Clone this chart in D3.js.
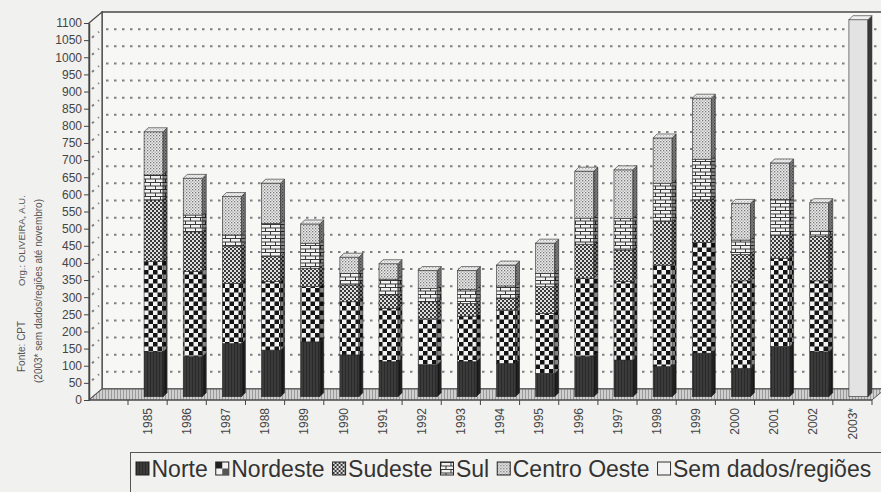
<!DOCTYPE html>
<html><head><meta charset="utf-8">
<script src="https://cdn.jsdelivr.net/npm/d3@7"></script>
<style>
body{margin:0;background:#f1f1f0;}
svg{display:block;font-family:"Liberation Sans",Arial,sans-serif;}
</style>
</head><body>
<script>
// ---------- DATA ----------
const years = ["1985","1986","1987","1988","1989","1990","1991","1992","1993","1994","1995","1996","1997","1998","1999","2000","2001","2002","2003*"];
const norte       = [131,117,155,136,160,122,102, 93,102, 97, 68,117,107, 88,127, 83,146,131,0];
const nordeste    = [263,248,176,200,161,155,156,134,133,156,175,229,229,296,323,255,258,207,0];
const sudeste     = [180,116,107, 73, 54, 49, 39, 50, 37, 34, 78, 99, 92,127,124, 77, 66,129,0];
const sul         = [ 73, 49, 34, 97, 73, 34, 46, 39, 41, 36, 39, 76, 92,112,119, 42,106, 16,0];
const centroOeste = [126,107,112,117, 56, 47, 45, 52, 55, 61, 88,137,142,132,178,107,106, 83,0];
const semDados    = [  0,  0,  0,  0,  0,  0,  0,  0,  0,  0,  0,  0,  0,  0,  0,  0,  0,  0,1100];
const yTickValues = [0,50,100,150,200,250,300,350,400,450,500,550,600,650,700,750,800,850,900,950,1000,1050,1100];
const seriesKeys  = ["norte","nordeste","sudeste","sul","centroOeste","semDados"];
const seriesNames = ["Norte","Nordeste","Sudeste","Sul","Centro Oeste","Sem dados/regiões"];
const noteLine1a = "Fonte: CPT";
const noteLine1b = "Org.: OLIVEIRA, A.U.";
const noteLine2  = "(2003* sem dados/regiões até novembro)";

const rows = years.map((y,i)=>({year:y, norte:norte[i], nordeste:nordeste[i], sudeste:sudeste[i], sul:sul[i], centroOeste:centroOeste[i], semDados:semDados[i]}));

// ---------- LAYOUT ----------
const W=881, H=492;
const axisX=89, wallDX=13, wallDY=11;
const yFront = d3.scaleLinear().domain([0,1100]).range([400,23]);
const yBack  = d3.scaleLinear().domain([0,1100]).range([400-wallDY,23-wallDY]);
const yBar   = d3.scaleLinear().domain([0,1100]).range([396.7,19.7]);
const x = d3.scaleBand().domain(years).range([128,872]).padding(0);
const bw=19, bdx=4, bdy=4;

const svg = d3.select("body").append("svg").attr("width",W).attr("height",H);
const defs = svg.append("defs");
function pat(id,w,h,draw){
  const p=defs.append("pattern").attr("id",id).attr("patternUnits","userSpaceOnUse").attr("width",w).attr("height",h);
  draw(p);
}
pat("p-norte",3,3,p=>{p.append("rect").attr("width",3).attr("height",3).attr("fill","#3b3b3b");p.append("rect").attr("width",1).attr("height",3).attr("fill","#2a2a2a");});
pat("p-nordeste",9,9,p=>{p.append("rect").attr("width",9).attr("height",9).attr("fill","#f3f3f3");
  p.append("rect").attr("width",4.5).attr("height",4.5).attr("fill","#141414");
  p.append("rect").attr("x",4.5).attr("y",4.5).attr("width",4.5).attr("height",4.5).attr("fill","#141414");});
pat("p-sudeste",4,4,p=>{p.append("rect").attr("width",4).attr("height",4).attr("fill","#3a3a3a");
  p.append("rect").attr("width",2).attr("height",2).attr("fill","#dedede");
  p.append("rect").attr("x",2).attr("y",2).attr("width",2).attr("height",2).attr("fill","#dedede");});
pat("p-sul",10,7,p=>{p.append("rect").attr("width",10).attr("height",7).attr("fill","#f2f2f2");
  p.append("path").attr("d","M0,0.5H10M0,4H10M0.5,0.5V4M5.5,4V7").attr("stroke","#3a3a3a").attr("stroke-width",1).attr("fill","none");});
pat("p-centroOeste",3,3,p=>{p.append("rect").attr("width",3).attr("height",3).attr("fill","#ececec");
  p.append("rect").attr("width",1.3).attr("height",1.3).attr("fill","#777");
  p.append("rect").attr("x",1.5).attr("y",1.5).attr("width",1.3).attr("height",1.3).attr("fill","#999");});
pat("p-semDados",4,4,p=>{p.append("rect").attr("width",4).attr("height",4).attr("fill","#e3e3e3");});
pat("p-floor",3,3,p=>{p.append("rect").attr("width",3).attr("height",3).attr("fill","#cfcfcf");p.append("rect").attr("width",1).attr("height",3).attr("fill","#9a9a9a");});

// ---------- WALLS ----------
const backLeft = axisX+wallDX;
svg.append("rect").attr("x",backLeft).attr("y",yBack(1100)).attr("width",W-backLeft+20).attr("height",yBack(0)-yBack(1100))
  .attr("fill","#f7f7f6").attr("stroke","#4a4a4a").attr("stroke-width",1.5);
svg.append("path").attr("d",`M${axisX},${yFront(1100)}L${backLeft},${yBack(1100)}L${backLeft},${yBack(0)}L${axisX},${yFront(0)}Z`)
  .attr("fill","#f3f3f2").attr("stroke","#4a4a4a").attr("stroke-width",1.2);
// gridlines
const grid = svg.append("g").attr("stroke","#808080").attr("stroke-width",2).attr("stroke-dasharray","2.5 5.5").attr("fill","none");
yTickValues.filter(v=>v>0&&v<1100).forEach(v=>{
  grid.append("line").attr("x1",backLeft+4).attr("x2",W).attr("y1",yBack(v)).attr("y2",yBack(v));
  grid.append("line").attr("x1",axisX+3).attr("x2",backLeft-3).attr("y1",yFront(v)-2.5).attr("y2",yBack(v)+2.5);
});
// floor
svg.append("path").attr("d",`M${axisX},${yFront(0)}L872,${yFront(0)}L${872+wallDX},${yBack(0)}L${backLeft},${yBack(0)}Z`)
  .attr("fill","url(#p-floor)").attr("stroke","#555").attr("stroke-width",1);

// ---------- BARS ----------
const stacked = d3.stack().keys(seriesKeys)(rows);
const barsG = svg.append("g");
years.forEach((yr,i)=>{
  const bx = x(yr)+x.bandwidth()/2-3.5;
  const g = barsG.append("g");
  let topKey=null, topVal=0;
  stacked.forEach(s=>{
    const d=s[i]; const y0=yBar(d[0]), y1=yBar(d[1]);
    if(d[1]<=d[0]) return;
    topKey=s.key; topVal=d[1];
    g.append("rect").attr("x",bx).attr("y",y1).attr("width",bw).attr("height",y0-y1)
      .attr("fill",`url(#p-${s.key})`).attr("stroke","#2a2a2a").attr("stroke-width",0.6);
    const side=`M${bx+bw},${y1}L${bx+bw+bdx},${y1-bdy}L${bx+bw+bdx},${y0-bdy}L${bx+bw},${y0}Z`;
    g.append("path").attr("d",side).attr("fill",`url(#p-${s.key})`);
    g.append("path").attr("d",side).attr("fill","#000").attr("fill-opacity",s.key==="semDados"?0.75:0.45).attr("stroke","#2a2a2a").attr("stroke-width",0.6);
  });
  if(topKey){
    const yt=yBar(topVal);
    const top=`M${bx},${yt}L${bx+bdx},${yt-bdy}L${bx+bw+bdx},${yt-bdy}L${bx+bw},${yt}Z`;
    g.append("path").attr("d",top).attr("fill",`url(#p-${topKey})`);
    g.append("path").attr("d",top).attr("fill","#fff").attr("fill-opacity",0.45).attr("stroke","#2a2a2a").attr("stroke-width",0.6);
  }
});

// ---------- AXES ----------
const yAxis = svg.append("g").attr("transform",`translate(${axisX},0)`)
  .call(d3.axisLeft(yFront).tickValues(yTickValues).tickFormat(d3.format("d")).tickSize(5).tickSizeOuter(0).tickPadding(2));
yAxis.select(".domain").attr("stroke","#444").attr("stroke-width",1.5);
yAxis.selectAll(".tick line").attr("stroke","#444");
yAxis.selectAll("text").attr("font-size",12).attr("fill","#444").attr("font-family","Liberation Sans, Arial, sans-serif");

const xAxis = svg.append("g").attr("transform",`translate(0,${yFront(0)})`)
  .call(d3.axisBottom(x).tickSize(0).tickSizeOuter(0));
xAxis.select(".domain").remove();
xAxis.selectAll("text").attr("font-size",12).attr("fill","#444").attr("font-family","Liberation Sans, Arial, sans-serif")
  .attr("transform","rotate(-90)").attr("text-anchor","end").attr("x",-8).attr("y",0).attr("dy","0.35em");
// boundary ticks
const bounds = years.map(y=>x(y)).concat([x(years[years.length-1])+x.step()]);
svg.append("g").selectAll("line").data(bounds).join("line")
  .attr("x1",d=>d).attr("x2",d=>d).attr("y1",yFront(0)).attr("y2",yFront(0)+5).attr("stroke","#444");
svg.append("line").attr("x1",axisX).attr("x2",872).attr("y1",yFront(0)).attr("y2",yFront(0)).attr("stroke","#444").attr("stroke-width",1.2);

// ---------- NOTES ----------
const notes = svg.append("g").attr("fill","#555").attr("font-size",10);
notes.append("text").attr("transform","translate(25,372) rotate(-90)").text(noteLine1a);
notes.append("text").attr("transform","translate(25,286) rotate(-90)").attr("font-size",9.5).text(noteLine1b);
notes.append("text").attr("transform","translate(42,383) rotate(-90)").text(noteLine2);

// ---------- LEGEND ----------
svg.append("rect").attr("x",130.5).attr("y",452.5).attr("width",800).attr("height",80).attr("fill","none").attr("stroke","#555").attr("stroke-width",1);
const leg = svg.append("g");
let lx = 136;
seriesKeys.forEach((k,i)=>{
  const sw = leg.append("g").attr("transform",`translate(${lx},462)`);
  if(k==="nordeste"){
    sw.append("rect").attr("width",13).attr("height",13).attr("fill","#f3f3f3").attr("stroke","#222");
    sw.append("rect").attr("width",6.5).attr("height",6.5).attr("fill","#222");
    sw.append("rect").attr("x",6.5).attr("y",6.5).attr("width",6.5).attr("height",6.5).attr("fill","#555");
  } else if(k==="semDados"){
    sw.append("rect").attr("width",13).attr("height",13).attr("fill","#f3f3f3").attr("stroke","#333");
  } else {
    sw.append("rect").attr("width",13).attr("height",13).attr("fill",`url(#p-${k})`).attr("stroke","#222");
  }
  const t = leg.append("text").attr("x",lx+15.5).attr("y",477).attr("font-size",23).attr("fill","#333").text(seriesNames[i]);
  lx += 15.5 + t.node().getComputedTextLength() + 8;
});
</script>
</body></html>
